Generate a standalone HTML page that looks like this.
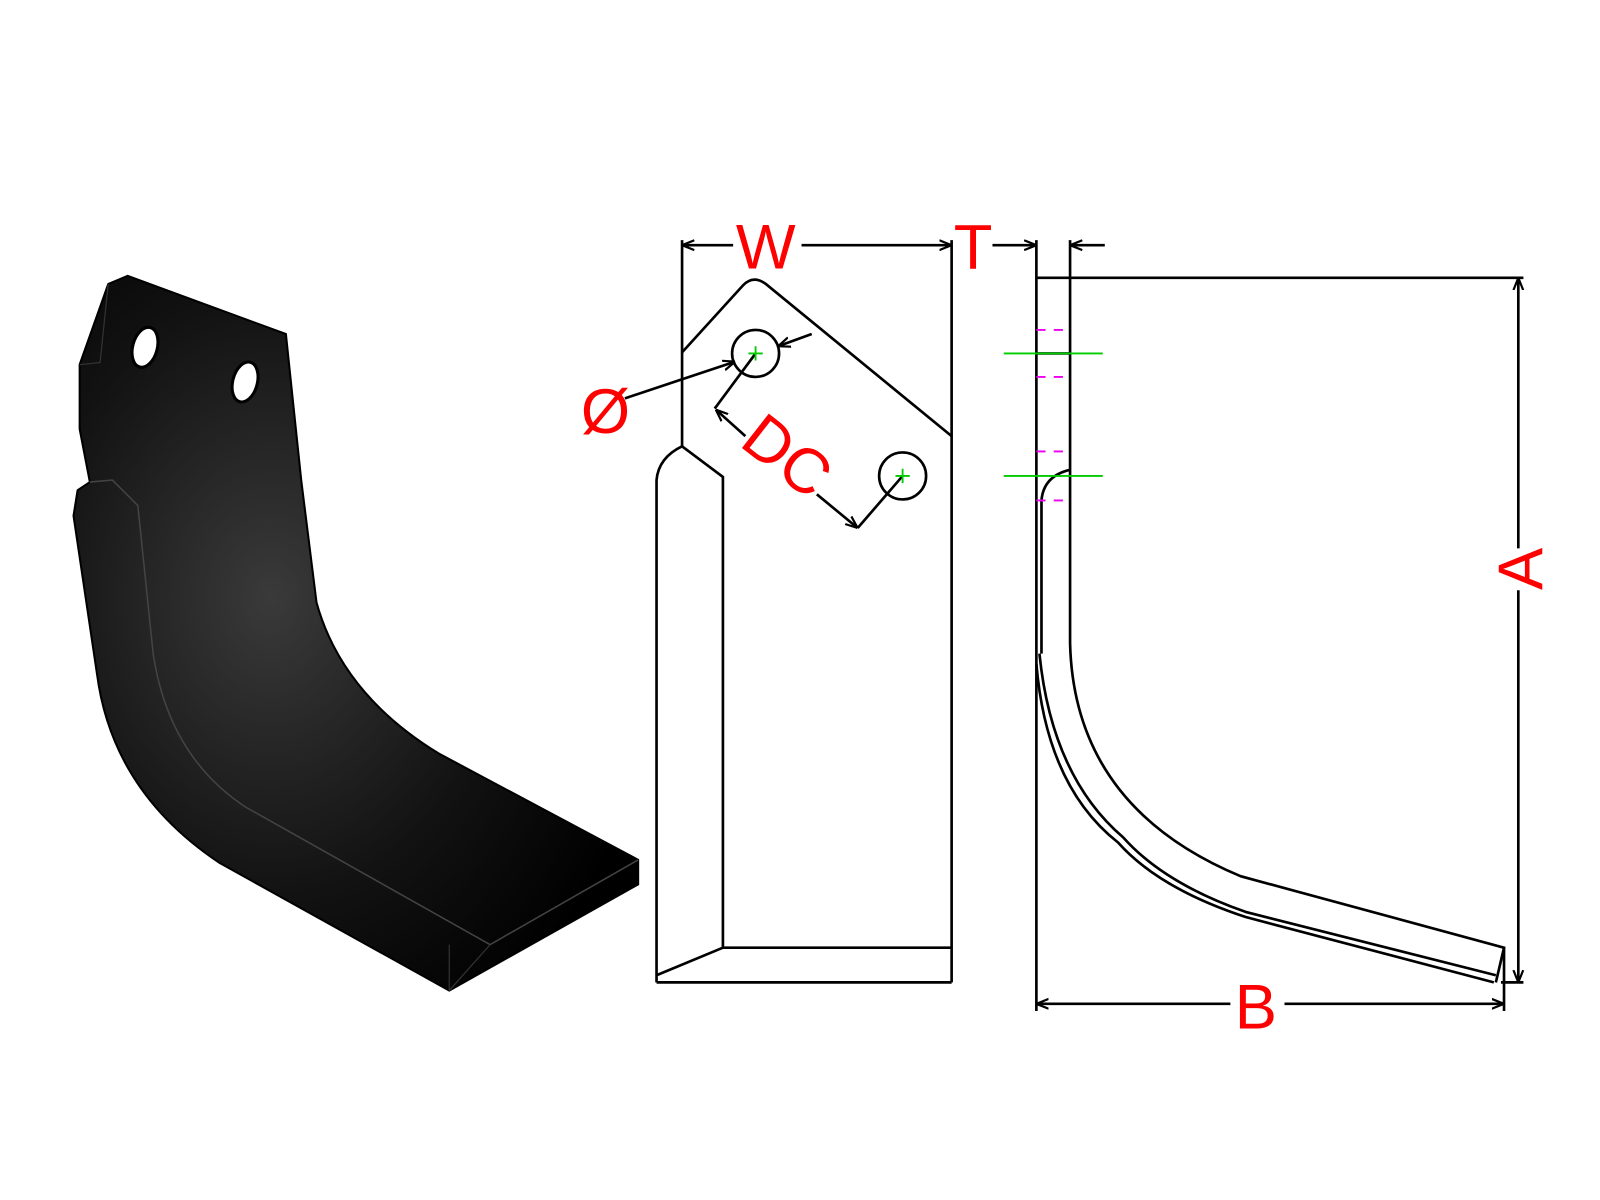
<!DOCTYPE html>
<html><head><meta charset="utf-8"><style>html,body{margin:0;padding:0;background:#fff}svg{display:block}</style></head>
<body>
<svg width="1600" height="1200" viewBox="0 0 1567 1175" xmlns="http://www.w3.org/2000/svg">
<defs>
<radialGradient id="g" cx="0.35" cy="0.45" r="0.7">
<stop offset="0" stop-color="#3a3a3a"/><stop offset="0.6" stop-color="#121212"/><stop offset="1" stop-color="#000"/>
</radialGradient>
<marker id="ar" viewBox="0 0 10 10" refX="10" refY="5" markerWidth="12" markerHeight="12" orient="auto-start-reverse" markerUnits="userSpaceOnUse">
<path d="M0,1 L10,5 L0,9" fill="none" stroke="#000" stroke-width="1.8"/>
</marker>
</defs>
<path d="M78,357 L106,278 L125,270 L280,327 L295,470 L310,590 Q335,680 430,738 L625,842 L625,866 L440,970 L215,845 Q110,775 95,660 L72,505 L76,480 L88,472 L78,420 Z" fill="url(#g)" stroke="#000" stroke-width="2"/>
<path d="M88,472 L110,470 L135,495 L150,640 Q165,740 240,790 L480,925 L625,842" fill="none" stroke="#444" stroke-width="1.5"/>
<path d="M440,925 L440,970 M480,925 L440,970" fill="none" stroke="#333" stroke-width="1.2"/>
<path d="M106,278 L98,355 L78,357" fill="none" stroke="#333" stroke-width="1.2"/>
<ellipse cx="142" cy="340" rx="12" ry="20" transform="rotate(15 142 340)" fill="#fff" stroke="#000" stroke-width="3"/>
<ellipse cx="240" cy="374" rx="12" ry="20" transform="rotate(15 240 374)" fill="#fff" stroke="#000" stroke-width="3"/>
<g fill="none" stroke="#000" stroke-width="2.6">
<path d="M668,235 V437 M932,235 V962 M643,962 H932 M708,928 H932"/>
<path d="M668,345 L728,279 Q738,269 750,278 L932,427"/>
<path d="M668,437 L708,467 V928 M668,437 Q645,448 643,470 V962 M643,955 L708,928"/>
<circle cx="740" cy="346" r="23"/><circle cx="884" cy="466" r="23"/>
<line x1="718" y1="240" x2="668" y2="240" marker-end="url(#ar)"/>
<line x1="785" y1="240" x2="932" y2="240" marker-end="url(#ar)"/>
<line x1="612" y1="390" x2="720" y2="354" marker-end="url(#ar)"/>
<line x1="795" y1="327" x2="762" y2="339" marker-end="url(#ar)"/>
<line x1="740" y1="346" x2="700" y2="400"/>
<line x1="730" y1="427" x2="701" y2="401" marker-end="url(#ar)"/>
<line x1="800" y1="484" x2="840" y2="517" marker-end="url(#ar)"/>
<line x1="840" y1="517" x2="884" y2="466"/>
<path d="M1015,235 V990 M1048,235 V272"/>
<line x1="972" y1="240" x2="1015" y2="240" marker-end="url(#ar)"/>
<line x1="1082" y1="240" x2="1048" y2="240" marker-end="url(#ar)"/>
<path d="M1015,272 H1492 M1015,346 H1048 M1470,962 H1492"/>
<line x1="1487" y1="537" x2="1487" y2="272" marker-end="url(#ar)"/>
<line x1="1487" y1="578" x2="1487" y2="962" marker-end="url(#ar)"/>
<path d="M1048,272 V630 Q1052,790 1215,858 L1473,928 L1465,962"/>
<path d="M1018,640 Q1030,760 1100,820 Q1140,865 1220,893 L1465,955"/>
<path d="M1015,650 Q1025,770 1095,825 Q1135,870 1220,898 L1463,962"/>
<path d="M1048,460 Q1022,466 1020,490 V640"/>
<line x1="1205" y1="983" x2="1015" y2="983" marker-end="url(#ar)"/>
<line x1="1258" y1="983" x2="1473" y2="983" marker-end="url(#ar)"/>
<path d="M1473,928 V990"/>
</g>
<g stroke="#0c0" stroke-width="1.8">
<path d="M983,346 H1080 M983,466 H1080 M740,339 V353 M733,346 H747 M884,459 V473 M877,466 H891"/>
</g>
<g stroke="#e0e" stroke-width="1.8" stroke-dasharray="9,8">
<path d="M1015,323 H1048 M1015,369 H1048 M1015,442 H1048 M1015,490 H1048"/>
</g>
<g fill="#f00" font-family="Liberation Sans, sans-serif" font-size="62" text-anchor="middle">
<text x="750" y="263">W</text>
<text x="953" y="263">T</text>
<text x="593" y="424">Ø</text>
<text x="1230" y="1007">B</text>
<text transform="translate(1510,557) rotate(-90)">A</text>
<text transform="translate(758,463) rotate(38)">DC</text>
</g>
</svg>
</body></html>
